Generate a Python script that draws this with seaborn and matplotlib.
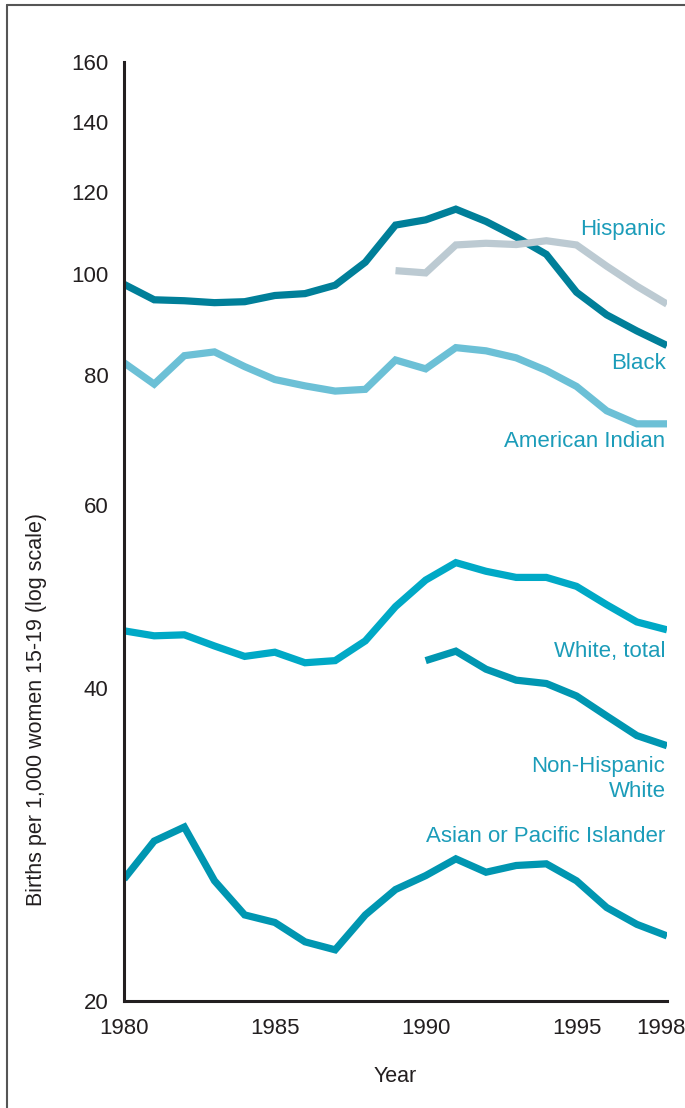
import numpy as np
import pandas as pd
import seaborn as sns
import matplotlib.pyplot as plt
import matplotlib.transforms as mtransforms
from matplotlib.lines import Line2D
from matplotlib.ticker import FixedLocator, NullFormatter

years = list(range(1980, 1999))

black = [97.8, 94.5, 94.3, 93.9, 94.1, 95.4, 95.8, 97.6, 102.7, 111.5,
         112.8, 115.5, 112.4, 108.6, 104.5, 96.1, 91.4, 88.2, 85.4]
hispanic = [np.nan] * 9 + [100.8, 100.3, 106.7, 107.1, 106.8, 107.7,
                           106.7, 101.8, 97.4, 93.6]
american_indian = [82.2, 78.4, 83.5, 84.2, 81.5, 79.2, 78.1, 77.2, 77.5, 82.7,
                   81.1, 85.0, 84.4, 83.1, 80.8, 78.0, 73.9, 71.8, 71.8]
white_total = [45.4, 44.9, 45.0, 43.9, 42.9, 43.3, 42.3, 42.5, 44.4, 47.9,
               50.8, 52.8, 51.8, 51.1, 51.1, 50.1, 48.1, 46.3, 45.5]
non_hisp_white = [np.nan] * 10 + [42.5, 43.4, 41.7, 40.7, 40.4, 39.3,
                                  37.6, 36.0, 35.2]
asian_pi = [26.2, 28.5, 29.4, 26.1, 24.2, 23.8, 22.8, 22.4, 24.2, 25.6,
            26.4, 27.4, 26.6, 27.0, 27.1, 26.1, 24.6, 23.7, 23.1]

series = {
    'Black': black,
    'Hispanic': hispanic,
    'American Indian': american_indian,
    'White, total': white_total,
    'Non-Hispanic White': non_hisp_white,
    'Asian or Pacific Islander': asian_pi,
}
colors = {
    'Black': '#007f99',
    'Hispanic': '#bccad2',
    'American Indian': '#6cc0d6',
    'White, total': '#00a9c6',
    'Non-Hispanic White': '#0096b1',
    'Asian or Pacific Islander': '#0096b1',
}

# label text, label y (data units)
labels = [
    ('Hispanic', 110.5),
    ('Black', 82.1),
    ('American Indian', 69.1),
    ('White, total', 43.4),
    ('Non-Hispanic\nWhite', 32.7),
    ('Asian or Pacific Islander', 28.8),
]

y_ticks = [20, 40, 60, 80, 100, 120, 140, 160]
x_ticks = [1980, 1985, 1990, 1995, 1998]

df = pd.DataFrame(series, index=years)
df.index.name = 'year'
long = df.reset_index().melt(id_vars='year', var_name='group', value_name='rate').dropna()

sns.set_style('white')
plt.rcParams['font.family'] = ['Liberation Sans', 'DejaVu Sans']

fig = plt.figure(figsize=(6.85, 11.08), dpi=100)
ax = fig.add_axes([124 / 685, 1 - 1001 / 1108, (667 - 124) / 685, (1001 - 62) / 1108])

sns.lineplot(data=long, x='year', y='rate', hue='group', palette=colors,
             linewidth=5.2, ax=ax, legend=False, estimator=None)
for line in ax.get_lines():
    line.set_solid_capstyle('butt')
    line.set_solid_joinstyle('miter')

ax.set_yscale('log')
ax.set_ylim(20, 160)
ax.set_xlim(1980, 1998)
ax.yaxis.set_major_locator(FixedLocator(y_ticks))
ax.yaxis.set_minor_locator(FixedLocator([]))
ax.set_yticklabels([str(v) for v in y_ticks])
ax.yaxis.set_minor_formatter(NullFormatter())
ax.set_xticks(x_ticks)
ax.set_xticklabels([str(v) for v in x_ticks])
ax.xaxis.set_minor_locator(FixedLocator(years))

ax.tick_params(axis='y', which='major', direction='in', length=10, width=2.5,
               color='#231f20', labelsize=16, labelcolor='#231f20', pad=11)
ax.tick_params(axis='x', which='major', direction='in', length=10, width=2,
               color='#231f20', labelsize=16, labelcolor='#231f20', pad=12)
ax.tick_params(axis='x', which='minor', direction='in', length=6, width=1.5,
               color='#231f20')

# nudge the last year label in a bit so it stays on the page
last = ax.get_xticklabels()[-1]
last.set_transform(last.get_transform() +
                   mtransforms.ScaledTranslation(-6 / 100, 0, fig.dpi_scale_trans))

for side in ['top', 'right']:
    ax.spines[side].set_visible(False)
for side in ['left', 'bottom']:
    ax.spines[side].set_linewidth(2.2)
    ax.spines[side].set_color('#231f20')

ax.set_xlabel('Year', fontsize=15.5, color='#231f20', labelpad=20)
ax.set_ylabel('')
fig.text(37 / 685, 1 - 709 / 1108, 'Births per 1,000 women 15-19 (log scale)',
         rotation=90, ha='center', va='center', fontsize=15.5, color='#231f20')

for text, yv in labels:
    ax.text(1997.95, yv, text, ha='right', va='center', fontsize=16,
            color='#1b9cb9', linespacing=1.2)

ax.set_facecolor('white')

# partial frame round the figure
fig.add_artist(Line2D([7 / 685, 7 / 685], [0, 1 - 5 / 1108], color='#555555', lw=1.5))
fig.add_artist(Line2D([7 / 685, 1], [1 - 5 / 1108, 1 - 5 / 1108], color='#555555', lw=1.5))

fig.savefig('out.png', dpi=100)
